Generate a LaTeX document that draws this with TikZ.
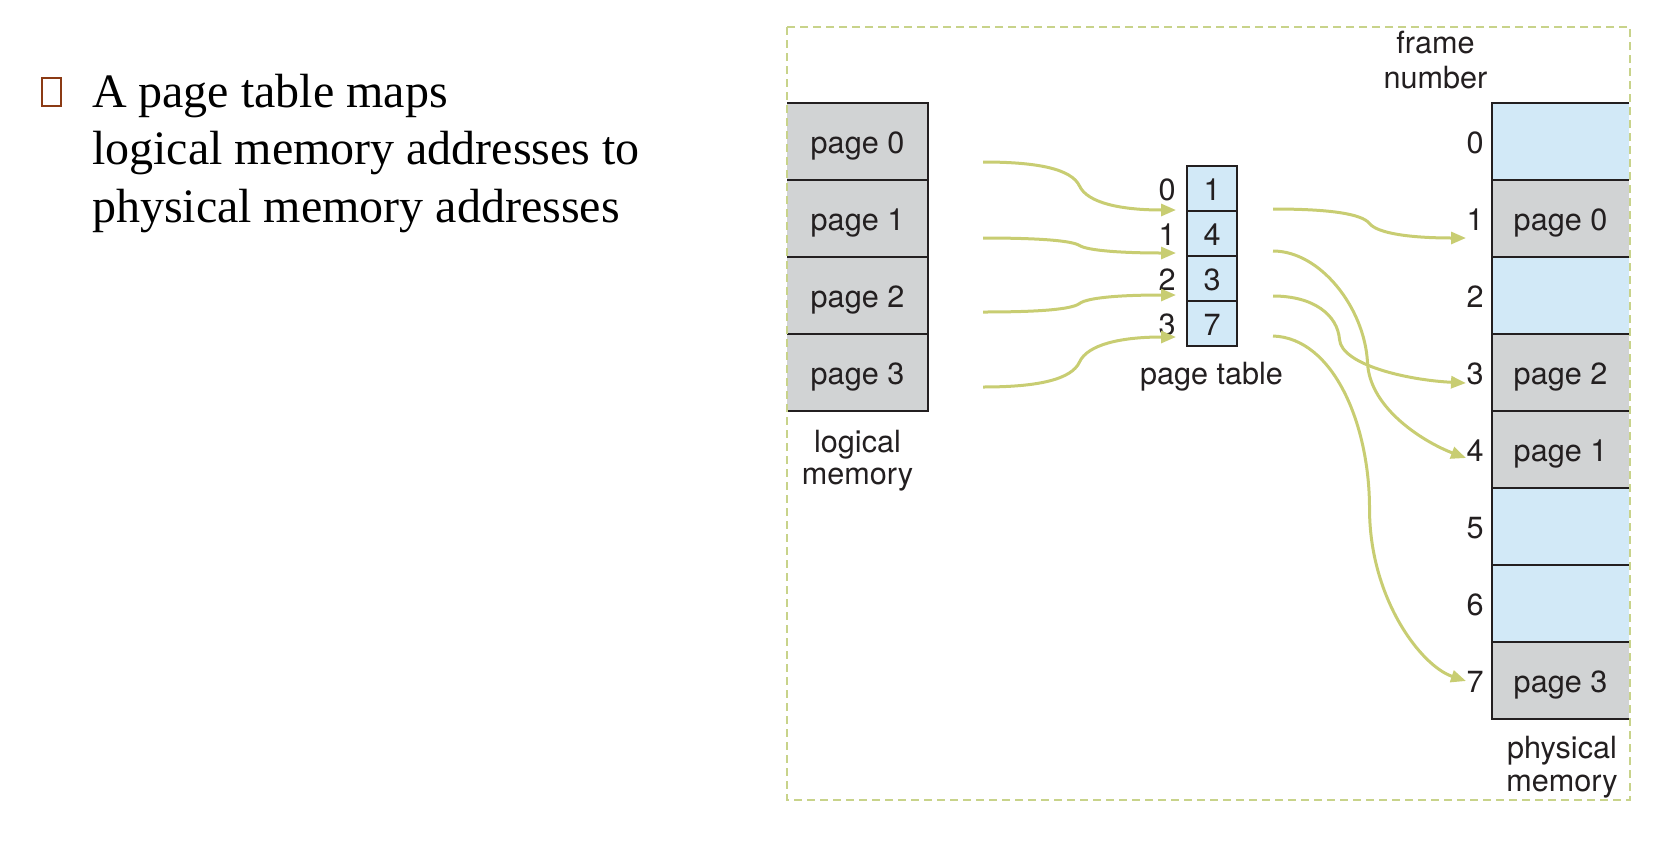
\documentclass[tikz,border=0pt]{standalone}
\usepackage{fontspec}
\setmainfont{Liberation Serif}
\newfontfamily\hv{TeX Gyre Heros}
\usetikzlibrary{arrows.meta,calc}
\definecolor{cgray}{HTML}{D1D3D4}
\definecolor{cblue}{HTML}{D2E9F7}
\definecolor{carrow}{HTML}{C8CD72}
\definecolor{cdash}{HTML}{C8D38A}
\definecolor{cbrown}{HTML}{8B3A14}
\definecolor{ctext}{HTML}{231F20}
\newcommand\dfont{\hv\fontsize{15.3}{16.75}\selectfont}
\begin{document}
\begin{tikzpicture}[x=0.5pt,y=-0.5pt,
  every node/.style={inner sep=0pt, outer sep=0pt},
  dtext/.style={font=\dfont, text=ctext, text height=11.5pt, text depth=0pt},
  lcell/.style={dtext, fill=cgray, minimum width=70.5pt, minimum height=38.5pt},
  pgcell/.style={dtext, fill=cgray, minimum width=68.5pt, minimum height=38.5pt},
  pbcell/.style={dtext, fill=cblue, minimum width=68.5pt, minimum height=38.5pt},
  ptcell/.style={dtext, fill=cblue, draw=ctext, line width=0.9pt, minimum width=25pt, minimum height=22.5pt},
  lbl/.style={font=\dfont, text=ctext, anchor=base},
  boxline/.style={draw=ctext, line width=0.9pt},
  arr/.style={draw=carrow, line width=1.5pt, -{Triangle[length=7.5pt,width=6pt]}},
  body/.style={font=\fontsize{24}{28.8}\selectfont, text=black, anchor=base west}
]
\useasboundingbox (0,0) rectangle (1674,841);

% bullet text
\node[draw=cbrown, line width=1.1pt, minimum width=9.5pt, minimum height=14pt] (bul) at (51.5,92) {};
\node[body] (t1) at (92,107) {A page table maps};
\node[body] (t2) at (92,164.6) {logical memory addresses to};
\node[body] (t3) at (92,222.2) {physical memory addresses};

% logical memory
\node[lcell] (lm0) at (857.5,141.5) {page 0};
\node[lcell] (lm1) at (857.5,218.5) {page 1};
\node[lcell] (lm2) at (857.5,295.5) {page 2};
\node[lcell] (lm3) at (857.5,372.5) {page 3};
\draw[boxline] (lm0.north west) -- (lm0.north east) -- (lm3.south east) -- (lm3.south west);
\draw[boxline] (lm0.south west) -- (lm0.south east);
\draw[boxline] (lm1.south west) -- (lm1.south east);
\draw[boxline] (lm2.south west) -- (lm2.south east);
\node[lbl] (lg1) at (857.5,452) {logical};
\node[lbl] (lg2) at (857.5,484) {memory};

% page table
\node[ptcell] (pt0) at (1212,188.5) {1};
\node[ptcell] (pt1) at (1212,233.5) {4};
\node[ptcell] (pt2) at (1212,278.5) {3};
\node[ptcell] (pt3) at (1212,323.5) {7};
\node[dtext] (i0) at (1167,188.5) {0};
\node[dtext] (i1) at (1167,233.5) {1};
\node[dtext] (i2) at (1167,278.5) {2};
\node[dtext] (i3) at (1167,323.5) {3};
\node[lbl] (ptl) at (1211.5,384) {page table};

% physical memory
\node[pbcell] (pm0) at (1560.5,141.5) {};
\node[pgcell] (pm1) at (1560.5,218.5) {page 0};
\node[pbcell] (pm2) at (1560.5,295.5) {};
\node[pgcell] (pm3) at (1560.5,372.5) {page 2};
\node[pgcell] (pm4) at (1560.5,449.5) {page 1};
\node[pbcell] (pm5) at (1560.5,526.5) {};
\node[pbcell] (pm6) at (1560.5,603.5) {};
\node[pgcell] (pm7) at (1560.5,680.5) {page 3};
\draw[boxline] (pm0.north east) -- (pm0.north west) -- (pm7.south west) -- (pm7.south east);
\foreach \k in {0,...,6}{\draw[boxline] (pm\k.south west) -- (pm\k.south east);}
\node[dtext] (f0) at (1475,141.5) {0};
\node[dtext] (f1) at (1475,218.5) {1};
\node[dtext] (f2) at (1475,295.5) {2};
\node[dtext] (f3) at (1475,372.5) {3};
\node[dtext] (f4) at (1475,449.5) {4};
\node[dtext] (f5) at (1475,526.5) {5};
\node[dtext] (f6) at (1475,603.5) {6};
\node[dtext] (f7) at (1475,680.5) {7};
\node[lbl] (fr1) at (1435.5,53) {frame};
\node[lbl] (fr2) at (1435.5,88) {number};
\node[lbl] (ph1) at (1562,758) {physical};
\node[lbl] (ph2) at (1562,791) {memory};

% arrow end points
\coordinate (a0) at (983,162); \coordinate (b0) at (1176,210);
\coordinate (a1) at (983,238); \coordinate (b1) at (1176,253);
\coordinate (a2) at (983,312); \coordinate (b2) at (1176,295);
\coordinate (a3) at (983,387); \coordinate (b3) at (1176,337);
\coordinate (c0) at (1273,209); \coordinate (d0) at (1466,238);
\coordinate (c1) at (1273,251); \coordinate (d1) at (1466,458);
\coordinate (c2) at (1273,296); \coordinate (d2) at (1466,383);
\coordinate (c3) at (1273,336); \coordinate (d3) at (1466,681);

% logical -> page table
\draw[arr] (a0) .. controls +(55,0) and +(-8,-17) .. ($(a0)!.5!(b0)$) .. controls +(8,17) and +(-55,0) .. (b0);
\draw[arr] (a1) .. controls +(55,0) and +(-8,-5) .. ($(a1)!.5!(b1)$) .. controls +(8,5) and +(-55,0) .. (b1);
\draw[arr] (a2) .. controls +(55,0) and +(-8,6) .. ($(a2)!.5!(b2)$) .. controls +(8,-6) and +(-55,0) .. (b2);
\draw[arr] (a3) .. controls +(55,0) and +(-8,17.5) .. ($(a3)!.5!(b3)$) .. controls +(8,-17.5) and +(-55,0) .. (b3);

% page table -> physical
\draw[arr] (c0) .. controls +(55,0) and +(-8,-10) .. ($(c0)!.5!(d0)$) .. controls +(8,10) and +(-55,0) .. (d0);
\draw[arr] (c1) .. controls +(47,0) and +(-3,-55) .. ($(c1)!.5!(d1)+(-2,8)$) .. controls +(2,47) and +(-40,-15) .. (d1);
\draw[arr] (c2) .. controls +(40,0) and +(-2,-25) .. ($(c2)!.5!(d2)+(-30,0)$) .. controls +(2,25) and +(-60,-3) .. (d2);
\draw[arr] (c3) .. controls +(60,2) and +(0,-85) .. ($(c3)!.5!(d3)$) .. controls +(0,90) and +(-45,-15) .. (d3);

% dashed frame
\draw[draw=cdash, line width=0.75pt, dash pattern=on 4pt off 2.5pt] (787,27) rectangle (1630,800);
\end{tikzpicture}
\end{document}
